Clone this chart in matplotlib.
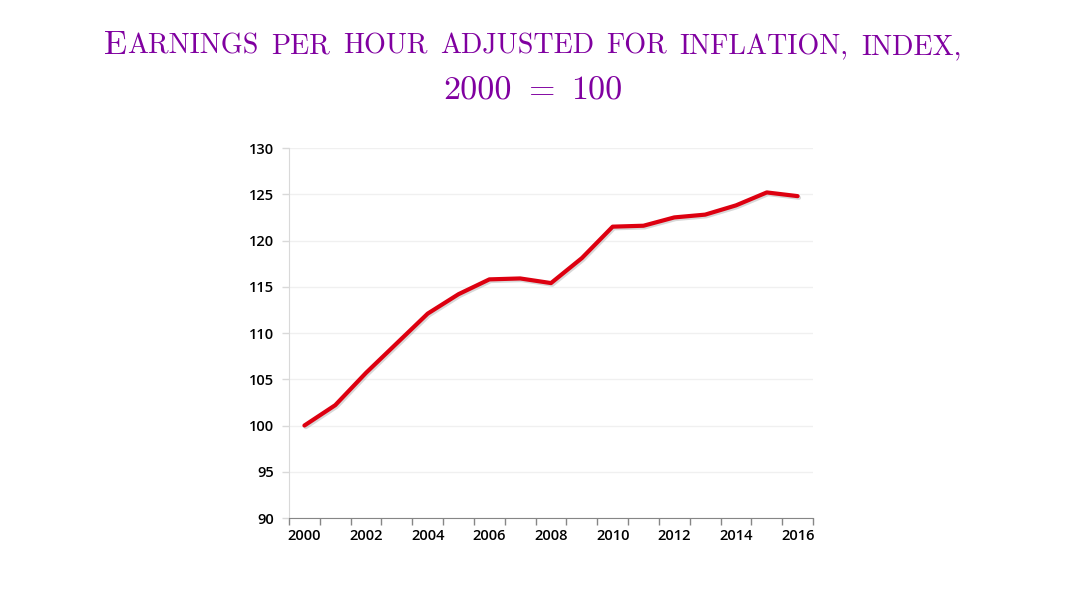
import matplotlib
matplotlib.use("Agg")
import matplotlib.pyplot as plt
import matplotlib.patheffects as pe
from matplotlib.offsetbox import TextArea, HPacker, AnchoredOffsetbox, VPacker
from matplotlib.ticker import FixedLocator

# ---- DATA ----
years = list(range(2000, 2017))
earnings = [100.0, 102.2, 105.7, 108.9, 112.1, 114.2, 115.8, 115.9, 115.4,
            118.1, 121.5, 121.6, 122.5, 122.8, 123.8, 125.2, 124.8]
year_labels = [str(y) if y % 2 == 0 else "" for y in years]
y_ticks = [90, 95, 100, 105, 110, 115, 120, 125, 130]

title_words = ["Earnings", "per", "hour", "adjusted", "for", "inflation,", "index,"]
title_line2 = ["2000", "=", "100"]

PURPLE = "#8000a0"
RED = "#dd0010"

fig = plt.figure(figsize=(10.66, 5.95), dpi=100)
ax = fig.add_axes([0.2711, 0.1294, 0.4916, 0.6218])

# ---- LINE ----
x = list(range(len(years)))
ax.plot(x, earnings, color=RED, linewidth=3, solid_capstyle="round",
        path_effects=[pe.SimpleLineShadow(offset=(1, -1.2), shadow_color="gray", alpha=0.3),
                      pe.Normal()])

ax.set_xlim(-0.5, len(years) - 0.5)
ax.set_ylim(90, 130)

# category axis: labels on every other year, ticks between categories
ax.set_xticks(x)
ax.set_xticklabels(year_labels)
ax.xaxis.set_minor_locator(FixedLocator([i - 0.5 for i in range(len(years) + 1)]))
ax.tick_params(axis="x", which="major", length=0, pad=8)
ax.tick_params(axis="x", which="minor", length=5, color="#868686", width=1)

ax.set_yticks(y_ticks)
ax.tick_params(axis="y", length=5, color="#d9d9d9", width=1, pad=6)

for lab in ax.get_xticklabels() + ax.get_yticklabels():
    lab.set_fontfamily("Open Sans")
    lab.set_fontsize(10.5)
    lab.set_fontweight("semibold")
    lab.set_color("black")

ax.grid(axis="y", color="#f0f0f0", linewidth=1)
ax.set_axisbelow(True)
for s in ["top", "right"]:
    ax.spines[s].set_visible(False)
ax.spines["left"].set_color("#d9d9d9")
ax.spines["bottom"].set_color("#868686")

# ---- TITLE (small caps built from two sizes) ----
BIG = 24.5
SMALL = 20.2
boxes = []
for i, w in enumerate(title_words):
    if i == 0:
        first = TextArea(w[0].upper(), textprops=dict(family="cmr10", size=BIG, color=PURPLE))
        rest = TextArea(w[1:].upper(), textprops=dict(family="cmr10", size=SMALL, color=PURPLE))
        boxes.append(HPacker(children=[first, rest], align="baseline", pad=0, sep=0))
    else:
        boxes.append(TextArea(w.upper(), textprops=dict(family="cmr10", size=SMALL, color=PURPLE)))
line1 = HPacker(children=boxes, align="baseline", pad=0, sep=9)

parts = [TextArea(t, textprops=dict(family="cmr10", size=BIG, color=PURPLE)) for t in title_line2]
line2 = HPacker(children=parts, align="baseline", pad=0, sep=12)

title = VPacker(children=[line1, line2], align="center", pad=0, sep=12)
anchored = AnchoredOffsetbox(loc="upper center", child=title, frameon=False,
                             bbox_to_anchor=(0.5, 0.948), bbox_transform=fig.transFigure,
                             borderpad=0, pad=0)
fig.add_artist(anchored)

fig.savefig("out.png", dpi=100)
